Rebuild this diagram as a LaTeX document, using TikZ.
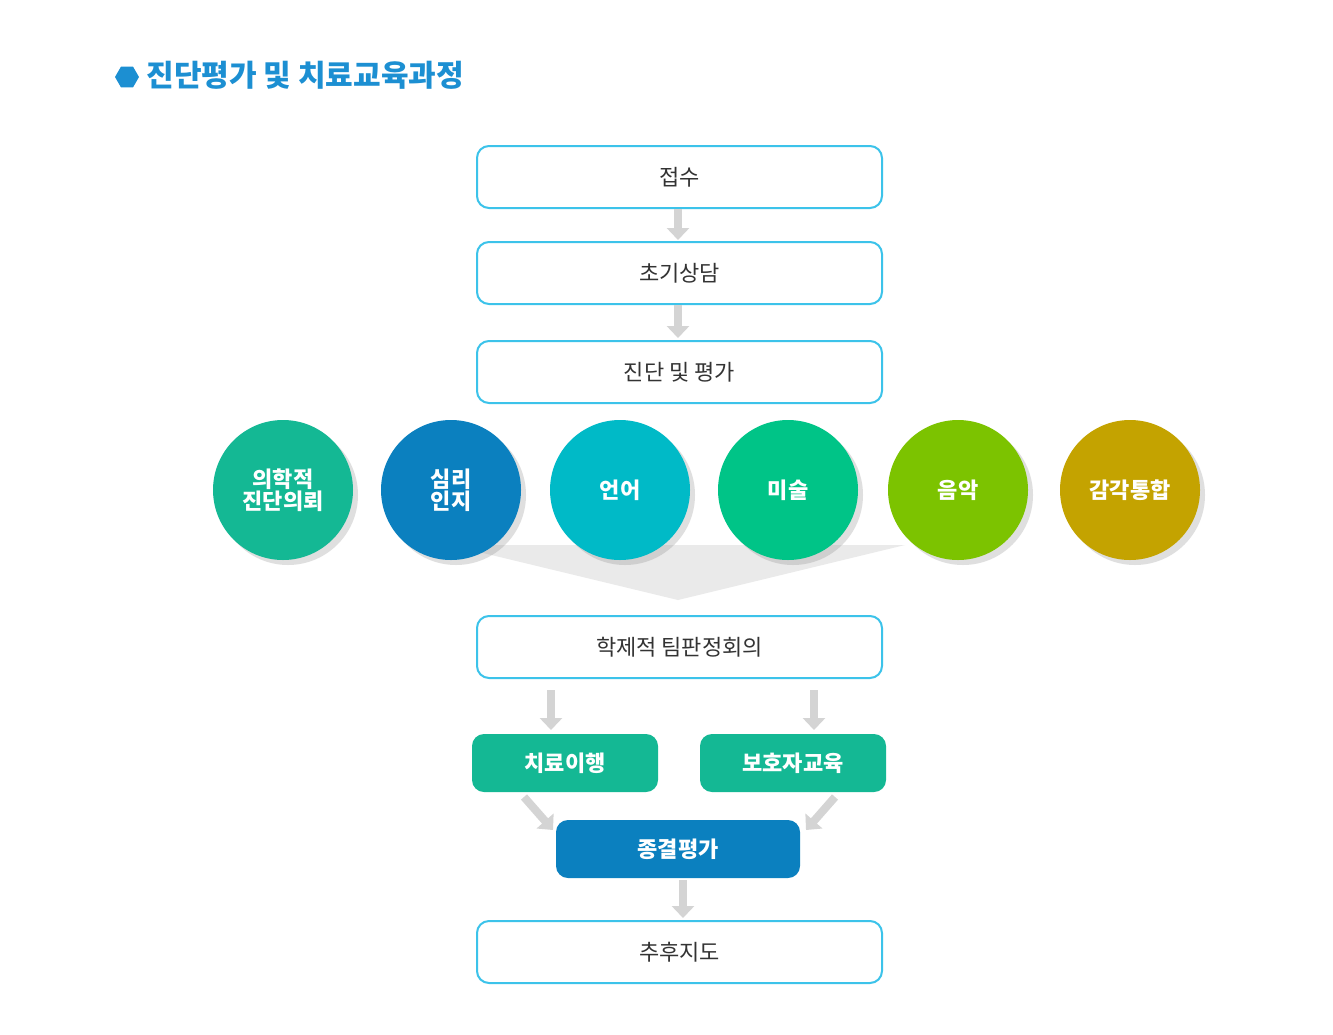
\documentclass[tikz,border=0pt]{standalone}
\usepackage{fontspec}
\setmainfont{Noto Sans CJK KR}
\usetikzlibrary{shadows,arrows.meta,shapes.geometric}
\definecolor{bd}{HTML}{3CC3EA}
\definecolor{tblue}{HTML}{1C8FD2}
\definecolor{cA}{HTML}{14B894}
\definecolor{cB}{HTML}{0B80BF}
\definecolor{cC}{HTML}{00BAC7}
\definecolor{cD}{HTML}{00C487}
\definecolor{cE}{HTML}{7CC300}
\definecolor{cF}{HTML}{C4A300}
\definecolor{gr}{HTML}{D4D4D4}
\tikzset{
  wbox/.style={draw=bd,line width=2pt,rounded corners=12pt,minimum width=405pt,minimum height=62pt,font=\fontsize{22}{24}\selectfont,text=black!80,fill=white},
  circ/.style={circle,minimum size=140pt,inner sep=0pt,text=white,font=\bfseries\fontsize{22}{26}\selectfont,align=center,drop shadow={opacity=0.25,shadow xshift=5pt,shadow yshift=-5pt}},
  gbox/.style={rounded corners=12pt,minimum height=58pt,text=white,font=\bfseries\fontsize{22}{24}\selectfont},
  garr/.style={gr,line width=8pt,-{Triangle[width=22pt,length=12pt]}}
}
\begin{document}
\begin{tikzpicture}[x=1pt,y=-1pt]
\useasboundingbox[fill=white] (0,0) rectangle (1333,1034);
\node[regular polygon,regular polygon sides=6,fill=tblue,minimum size=24pt,inner sep=0pt] (icon) at (127,77) {};
\node[anchor=west,text=tblue,font=\bfseries\fontsize{30}{32}\selectfont] (title) at (143,75) {진단평가 및 치료교육과정};
% funnel
\fill[gr!50] (450,545) -- (905,545) -- (678,600) -- cycle;
\node[wbox] (b1) at (679.5,177) {접수};
\node[wbox] (b2) at (679.5,273) {초기상담};
\node[wbox] (b3) at (679.5,372) {진단 및 평가};
\node[circ,fill=cA] (c1) at (283,490) {의학적\\[-4pt]진단의뢰};
\node[circ,fill=cB] (c2) at (451,490) {심리\\[-4pt]인지};
\node[circ,fill=cC] (c3) at (620,490) {언어};
\node[circ,fill=cD] (c4) at (788,490) {미술};
\node[circ,fill=cE] (c5) at (958,490) {음악};
\node[circ,fill=cF] (c6) at (1130,490) {감각통합};
\node[wbox] (b4) at (679.5,647) {학제적 팀판정회의};
\node[gbox,fill=cA,minimum width=186pt] (t1) at (565,763) {치료이행};
\node[gbox,fill=cA,minimum width=186pt] (t2) at (793,763) {보호자교육};
\node[gbox,fill=cB,minimum width=244pt] (t3) at (678,849) {종결평가};
\node[wbox] (b5) at (679.5,952) {추후지도};
\coordinate (a1s) at (678,209); \coordinate (a1e) at (678,240);
\coordinate (a2s) at (678,305); \coordinate (a2e) at (678,338);
\coordinate (a3s) at (551,690); \coordinate (a3e) at (551,730);
\coordinate (a4s) at (814,690); \coordinate (a4e) at (814,730);
\coordinate (a5s) at (524,797); \coordinate (a5e) at (553,830);
\coordinate (a6s) at (835,797); \coordinate (a6e) at (806,830);
\coordinate (a7s) at (683,880); \coordinate (a7e) at (683,918);
\draw[garr] (a1s) -- (a1e);
\draw[garr] (a2s) -- (a2e);
\draw[garr] (a3s) -- (a3e);
\draw[garr] (a4s) -- (a4e);
\draw[garr] (a5s) -- (a5e);
\draw[garr] (a6s) -- (a6e);
\draw[garr] (a7s) -- (a7e);
\end{tikzpicture}
\end{document}
